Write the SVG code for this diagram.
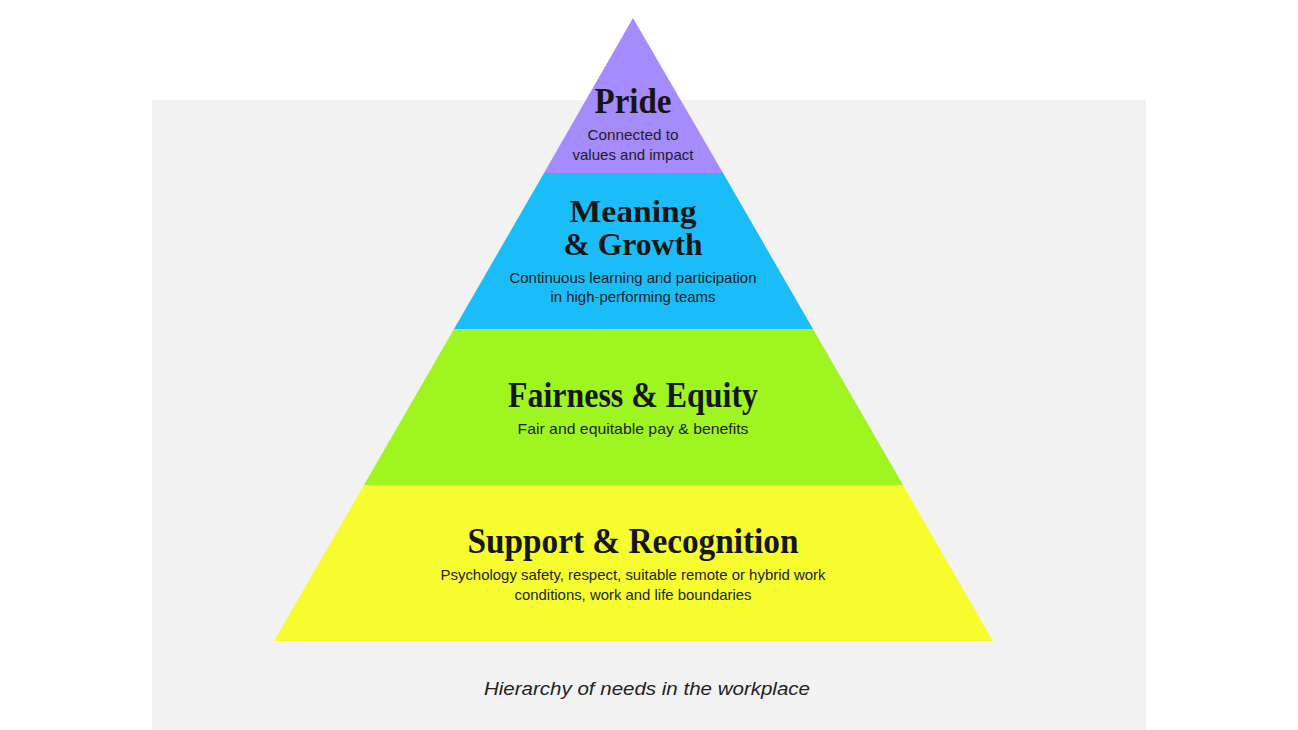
<svg xmlns="http://www.w3.org/2000/svg" width="1298" height="730" viewBox="0 0 1298 730">
<style>
.t{font-family:"Liberation Serif","DejaVu Serif",serif;font-weight:bold;fill:#161616;text-anchor:middle}
.s{font-family:"Liberation Sans",Arial,sans-serif;font-size:15px;fill:#1e1e1e;text-anchor:middle}
.c{font-family:"Liberation Sans",Arial,sans-serif;font-size:18px;font-style:italic;fill:#222;text-anchor:middle}
</style>
<rect width="1298" height="730" fill="#ffffff"/>
<rect x="152" y="100" width="994" height="630" fill="#f2f2f2"/>
<g id="support">
<polygon points="364,485 903,485 993,641 274,641" fill="#f7fc2e"/>
<text class="t" x="633" y="553" font-size="36" textLength="331" lengthAdjust="spacingAndGlyphs">Support &amp; Recognition</text>
<text class="s" x="633" y="580" textLength="385" lengthAdjust="spacingAndGlyphs">Psychology safety, respect, suitable remote or hybrid work</text>
<text class="s" x="633" y="600" textLength="237" lengthAdjust="spacingAndGlyphs">conditions, work and life boundaries</text>
</g>
<g id="fairness">
<polygon points="454,329 813,329 903,485 364,485" fill="#9ef51f"/>
<text class="t" x="633" y="407" font-size="36" textLength="250" lengthAdjust="spacingAndGlyphs">Fairness &amp; Equity</text>
<text class="s" x="633" y="434" textLength="231" lengthAdjust="spacingAndGlyphs">Fair and equitable pay &amp; benefits</text>
</g>
<g id="meaning">
<polygon points="544,173 723,173 813,329 454,329" fill="#1bbdf8"/>
<text class="t" x="633" y="222" font-size="32" textLength="127" lengthAdjust="spacingAndGlyphs">Meaning</text>
<text class="t" x="633" y="255" font-size="32" textLength="139" lengthAdjust="spacingAndGlyphs">&amp; Growth</text>
<text class="s" x="633" y="283" textLength="247" lengthAdjust="spacingAndGlyphs">Continuous learning and participation</text>
<text class="s" x="633" y="302" textLength="165" lengthAdjust="spacingAndGlyphs">in high-performing teams</text>
</g>
<g id="pride">
<polygon points="633,18 723,173 544,173" fill="#a58bfc"/>
<text class="t" x="633" y="113" font-size="36" textLength="77" lengthAdjust="spacingAndGlyphs">Pride</text>
<text class="s" x="633" y="140" textLength="91" lengthAdjust="spacingAndGlyphs">Connected to</text>
<text class="s" x="633" y="160" textLength="121" lengthAdjust="spacingAndGlyphs">values and impact</text>
</g>
<g id="connectors"/>
<text class="c" x="647" y="695" textLength="326" lengthAdjust="spacingAndGlyphs">Hierarchy of needs in the workplace</text>
</svg>
